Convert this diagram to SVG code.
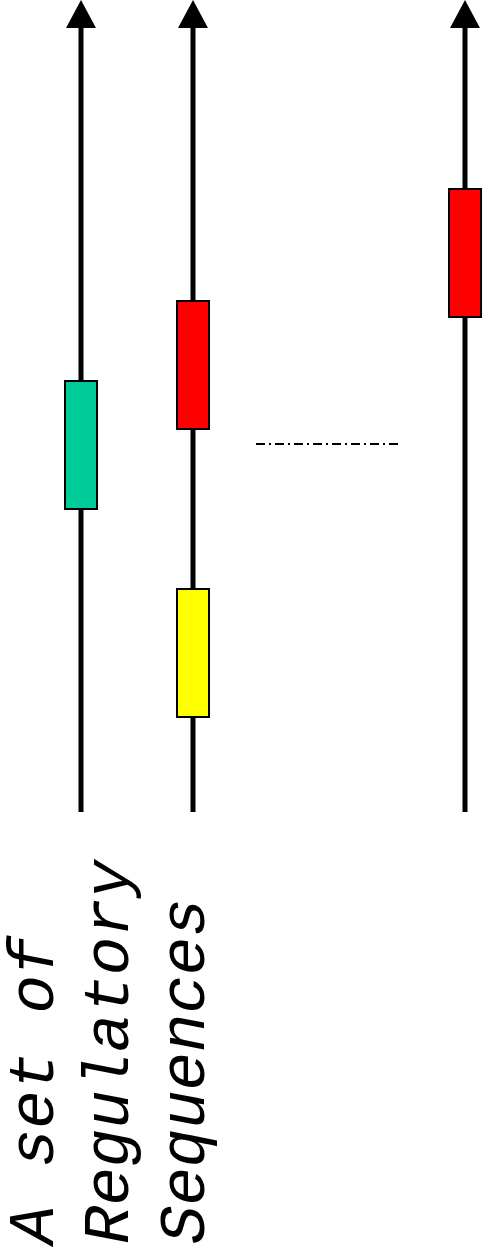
<svg xmlns="http://www.w3.org/2000/svg" width="482" height="1255" viewBox="0 0 482 1255">
<style>
.axis{stroke:#000;stroke-width:5;fill:none}
.head{fill:#000}
.box{stroke:#000;stroke-width:2}
.lbl{font-family:"Courier New","Liberation Mono",monospace;font-style:italic;font-size:64px;fill:#000}
</style>
<g id="connectors">
<line class="axis" x1="81" y1="812" x2="81" y2="26"/>
<path class="head" d="M81,0 L96,28 L66,28 Z"/>
<line class="axis" x1="193" y1="812" x2="193" y2="26"/>
<path class="head" d="M193,0 L208,28 L178,28 Z"/>
<line class="axis" x1="465" y1="812" x2="465" y2="26"/>
<path class="head" d="M465,0 L480,28 L450,28 Z"/>
<line x1="256" y1="444" x2="400" y2="444" stroke="#000" stroke-width="2" stroke-dasharray="9,4,2,4"/>
</g>
<g id="green-box"><rect class="box" x="65" y="381" width="32" height="128" fill="#00CC99"/></g>
<g id="red-box-mid"><rect class="box" x="177" y="301" width="32" height="128" fill="#FF0000"/></g>
<g id="yellow-box"><rect class="box" x="177" y="589" width="32" height="128" fill="#FFFF00"/></g>
<g id="red-box-right"><rect class="box" x="449" y="189" width="32" height="128" fill="#FF0000"/></g>
<g id="label">
<text class="lbl" transform="translate(53,1244) rotate(-90)">A set of</text>
<text class="lbl" transform="translate(128,1244) rotate(-90)">Regulatory</text>
<text class="lbl" transform="translate(204,1244) rotate(-90)">Sequences</text>
</g>
</svg>
